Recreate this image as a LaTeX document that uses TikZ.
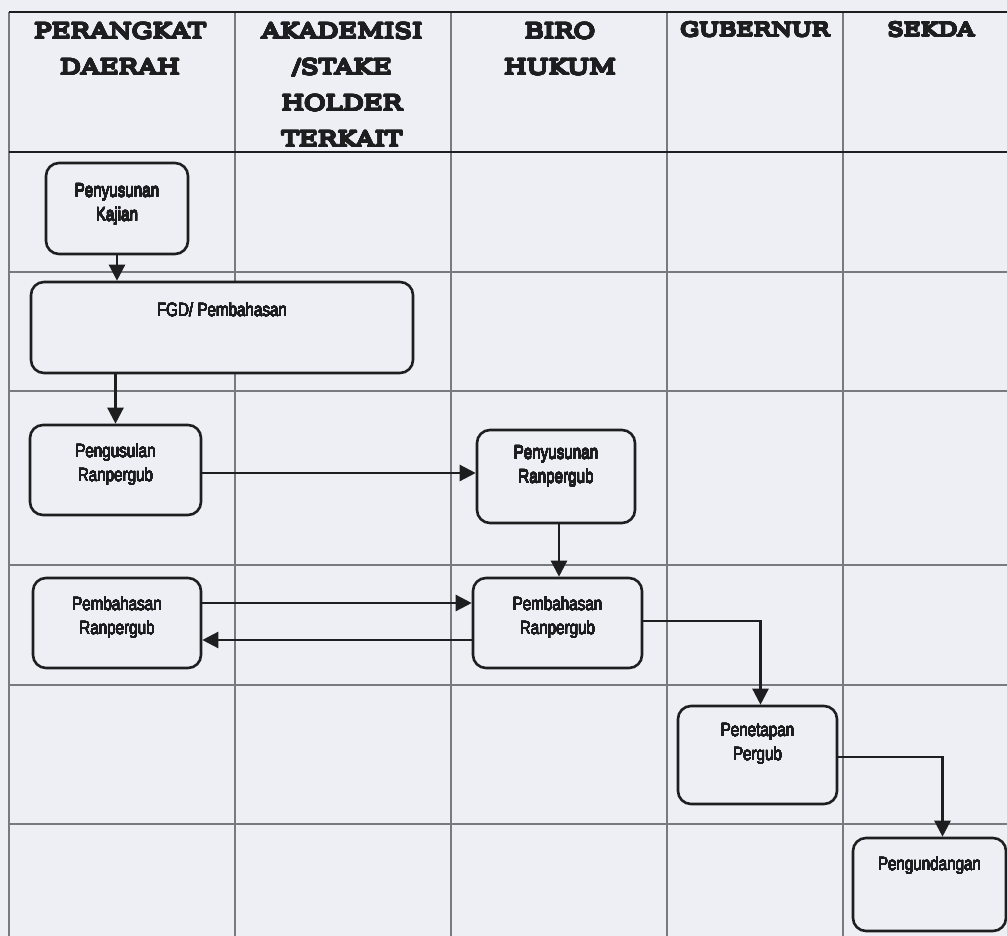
\documentclass[tikz,border=0pt]{standalone}
\usepackage{fontspec}
\usepackage[copies]{contour}
\setmainfont{Liberation Sans}
\newfontfamily\headfont[FakeStretch=1.24]{DejaVu Serif}
\newfontfamily\boxfont[FakeStretch=0.8]{Liberation Sans}
\usetikzlibrary{arrows.meta}
\definecolor{paper}{RGB}{237,239,244}
\definecolor{ink}{RGB}{30,30,32}
\definecolor{rule}{RGB}{120,122,128}
% heavy heading lettering: text thickened with a same-coloured contour
\contournumber{24}
\newcommand{\heavy}[1]{{\contourlength{0.85pt}\contour{ink}{#1}}}
% step labels, slightly darkened
\newcommand{\steplabel}[1]{{\contourlength{0.1pt}\contour{ink}{#1}}}
\begin{document}
\begin{tikzpicture}[x=1pt,y=-1pt,
  gridline/.style={draw=rule, line width=1.1pt},
  headrule/.style={draw=ink, line width=1.4pt},
  stepbox/.style={draw=ink, fill=paper, line width=2.6pt, rounded corners=13pt, inner sep=0pt},
  boxtext/.style={font=\boxfont\fontsize{19}{24}\selectfont, align=center, text=ink, inner sep=0pt},
  flow/.style={draw=ink, line width=2.4pt, -{Triangle[length=16pt,width=16pt]}},
  lanehead/.style={font=\headfont\fontsize{21}{36}\selectfont, align=center, anchor=north, inner sep=0pt, text=ink},
  lanehead small/.style={lanehead, font=\headfont\fontsize{19}{30}\selectfont}
]
\useasboundingbox (0,0) rectangle (1007,936);
\fill[paper] (0,0) rectangle (1007,936);

% swimlane grid
\foreach \yy in {272,391,565,685,824}
  \draw[gridline] (9,\yy) -- (1007,\yy);
\foreach \xx in {9,235,451,667,843}
  \draw[gridline] (\xx,12) -- (\xx,936);
\draw[headrule] (9,12) -- (1007,12);
\draw[headrule] (9,152) -- (1007,152);

% lane headings
\node[lanehead] (h1) at (120,23) {\heavy{PERANGKAT}\\\heavy{DAERAH}};
\node[lanehead] (h2) at (342,23) {\heavy{AKADEMISI}\\\heavy{/STAKE}\\\heavy{HOLDER}\\\heavy{TERKAIT}};
\node[lanehead] (h3) at (560,23) {\heavy{BIRO}\\\heavy{HUKUM}};
\node[lanehead small] (h4) at (755,22) {\heavy{GUBERNUR}};
\node[lanehead small] (h5) at (931,22) {\heavy{SEKDA}};

% process steps
\node[stepbox, minimum width=142pt, minimum height=91pt] (kaj) at (117,208.5) {};
\node[boxtext] (kajt) at ([yshift=4pt]kaj.center) {\steplabel{Penyusunan}\\\steplabel{Kajian}};

\node[stepbox, minimum width=382pt, minimum height=91pt] (fgd) at (222,327.5) {};
\node[boxtext] (fgdt) at ([yshift=18pt]fgd.center) {\steplabel{FGD/ Pembahasan}};

\node[stepbox, minimum width=171pt, minimum height=90pt] (peng) at (115.5,470) {};
\node[boxtext] (pengt) at ([yshift=5pt]peng.center) {\steplabel{Pengusulan}\\\steplabel{Ranpergub}};

\node[stepbox, minimum width=158pt, minimum height=93pt] (pr) at (556,476.5) {};
\node[boxtext] (prt) at ([yshift=10pt]pr.center) {\steplabel{Penyusunan}\\\steplabel{Ranpergub}};

\node[stepbox, minimum width=168pt, minimum height=90pt] (pbl) at (117,623) {};
\node[boxtext] (pblt) at ([yshift=5pt]pbl.center) {\steplabel{Pembahasan}\\\steplabel{Ranpergub}};

\node[stepbox, minimum width=169pt, minimum height=90pt] (pbr) at (557.5,623) {};
\node[boxtext] (pbrt) at ([yshift=5pt]pbr.center) {\steplabel{Pembahasan}\\\steplabel{Ranpergub}};

\node[stepbox, minimum width=159pt, minimum height=98pt] (pen) at (757.5,755) {};
\node[boxtext] (pent) at ([yshift=11pt]pen.center) {\steplabel{Penetapan}\\\steplabel{Pergub}};

\node[stepbox, minimum width=153pt, minimum height=93pt] (pgd) at (929.5,884.5) {};
\node[boxtext] (pgdt) at ([yshift=19pt]pgd.center) {\steplabel{Pengundangan}};

% connectors
\draw[flow] (kaj.south) -- (kaj.south |- fgd.north);
\draw[flow] (fgd.south -| peng.north) -- (peng.north);
\draw[flow] ([yshift=-3pt]peng.east) -- ([yshift=-3pt]peng.east -| pr.west);
\draw[flow] ([xshift=3pt]pr.south) -- ([xshift=3pt]pr.south |- pbr.north);
\draw[flow] ([yshift=20pt]pbl.east) -- ([yshift=20pt]pbl.east -| pbr.west);
\draw[flow] ([yshift=-17pt]pbr.west) -- ([yshift=-17pt]pbr.west -| pbl.east);
\draw[flow] ([yshift=2pt]pbr.east) -| ([xshift=3pt]pen.north);
\draw[flow] ([yshift=-2pt]pen.east) -| ([xshift=13pt]pgd.north);
\end{tikzpicture}
\end{document}
